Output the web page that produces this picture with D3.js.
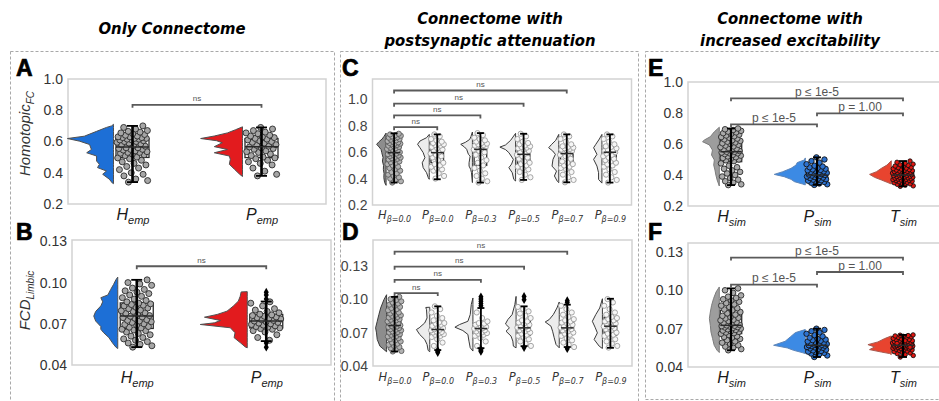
<!DOCTYPE html>
<html>
<head>
<meta charset="utf-8">
<script src="https://cdn.jsdelivr.net/npm/d3@7"></script>
<style>
  html, body { margin: 0; padding: 0; background: #fff; }
  svg { display: block; }
</style>
</head>
<body>
<svg id="fig" width="939" height="401"></svg>
<script>
// ---------- categories and ticks ----------
const labelsEmp  = [["H", "emp"], ["P", "emp"]];
const labelsBeta = [["H", "β=0.0"], ["P", "β=0.0"], ["P", "β=0.3"], ["P", "β=0.5"], ["P", "β=0.7"], ["P", "β=0.9"]];
const labelsSim  = [["H", "sim"], ["P", "sim"], ["T", "sim"]];
const ticksFC  = [0.2, 0.4, 0.6, 0.8, 1.0];
const ticksFCD = [0.04, 0.07, 0.10, 0.13];
const panelTitles = [["Only Connectome"], ["Connectome with", "postsynaptic attenuation"], ["Connectome with", "increased excitability"]];

// ---------- Homotopic FC, empirical ----------
const fcHemp = [0.34,0.35,0.36,0.38,0.39,0.40,0.42,0.43,0.44,0.45,0.46,0.47,0.48,0.49,0.495,
  0.50,0.51,0.515,0.52,0.525,0.53,0.53,0.535,0.54,0.545,0.55,0.55,0.555,0.56,0.56,
  0.57,0.575,0.58,0.585,0.59,0.595,0.60,0.60,0.605,0.61,0.61,0.615,0.615,0.62,0.62,
  0.625,0.625,0.63,0.63,0.635,0.64,0.645,0.65,0.655,0.66,0.665,0.67,0.68,0.69,0.70];
const fcPemp = [0.38,0.39,0.41,0.43,0.45,0.46,0.47,0.48,0.49,0.495,
  0.50,0.51,0.52,0.53,0.535,0.54,0.55,0.555,0.56,0.565,
  0.57,0.575,0.58,0.59,0.595,0.60,0.605,0.61,0.615,0.62,
  0.625,0.63,0.635,0.64,0.65,0.655,0.66,0.67,0.68,0.69];
// box: [lower whisker, q1, median, q3, upper whisker]
const boxFcHemp = [0.34, 0.498, 0.565, 0.619, 0.70];
const boxFcPemp = [0.38, 0.497, 0.567, 0.619, 0.69];
// half-violin density profiles: [value, relative density]
const kdeFcHemp = [[0.71,0],[0.70,0.04],[0.69,0.15],[0.665,0.36],[0.634,0.62],[0.619,0.98],[0.602,0.72],[0.581,0.51],
  [0.549,0.47],[0.528,0.57],[0.507,0.36],[0.475,0.36],[0.454,0.30],[0.433,0.34],[0.411,0.15],[0.39,0.23],[0.359,0.09],[0.333,0.02],[0.33,0]];
const kdeFcPemp = [[0.694,0],[0.675,0.15],[0.655,0.32],[0.635,0.60],[0.619,0.89],[0.605,0.55],[0.592,0.43],[0.567,0.60],
  [0.549,0.32],[0.528,0.60],[0.507,0.28],[0.486,0.26],[0.454,0.28],[0.422,0.17],[0.39,0.06],[0.376,0]];

// ---------- FCD limbic, empirical ----------
const fcdHemp = [0.053,0.054,0.055,0.056,0.057,0.058,0.059,0.060,0.061,0.062,0.063,0.064,0.065,0.0655,0.066,
  0.067,0.0675,0.068,0.069,0.0695,0.070,0.071,0.0715,0.072,0.0725,0.073,0.074,0.0745,0.075,0.0755,
  0.076,0.077,0.0775,0.078,0.079,0.0795,0.080,0.081,0.0815,0.082,0.083,0.0835,0.084,0.0845,0.085,
  0.086,0.087,0.088,0.089,0.090,0.091,0.092,0.093,0.094,0.095,0.096,0.098,0.099,0.100,0.102];
const fcdPemp = [0.053,0.056,0.058,0.060,0.062,0.064,0.065,0.066,0.0665,0.067,
  0.0675,0.068,0.0685,0.069,0.0695,0.070,0.0705,0.071,0.0715,0.072,
  0.0725,0.073,0.0735,0.074,0.0745,0.075,0.0755,0.076,0.0765,0.077,
  0.078,0.079,0.080,0.081,0.083,0.085,0.086,0.088,0.091,0.093];
const boxFcdHemp = [0.053, 0.0666, 0.0756, 0.0852, 0.102];
const boxFcdPemp = [0.0574, 0.067, 0.072, 0.0768, 0.0862];
const kdeFcdHemp = [[0.104,0],[0.102,0.04],[0.0986,0.09],[0.095,0.15],[0.091,0.21],[0.089,0.36],[0.086,0.32],[0.083,0.36],
  [0.079,0.47],[0.0756,0.51],[0.072,0.47],[0.068,0.36],[0.066,0.36],[0.0635,0.30],[0.06,0.19],[0.056,0.11],[0.053,0.04],[0.052,0]];
const kdeFcdPemp = [[0.0934,0],[0.0932,0.13],[0.090,0.15],[0.0865,0.19],[0.0828,0.30],[0.0792,0.43],[0.0768,0.64],[0.0748,0.91],
  [0.0724,0.57],[0.0707,0.70],[0.0695,1.0],[0.0671,0.36],[0.0635,0.26],[0.0599,0.28],[0.0563,0.15],[0.0531,0.04],[0.0525,0]];

// ---------- Homotopic FC, postsynaptic attenuation ----------
const fcHb00 = [0.37,0.38,0.39,0.40,0.41,0.42,0.43,0.44,0.45,0.46,0.47,0.48,0.49,0.50,0.51,
  0.52,0.525,0.53,0.54,0.545,0.55,0.555,0.56,0.565,0.57,0.575,0.58,0.585,0.59,0.595,
  0.60,0.605,0.61,0.615,0.62,0.625,0.63,0.635,0.64,0.645,0.65,0.655,0.66,0.665,0.665,
  0.67,0.675,0.68,0.685,0.69,0.695,0.70,0.705,0.71,0.715,0.72,0.725,0.73,0.735,0.74];
const fcPb00 = [0.40,0.42,0.44,0.46,0.47,0.48,0.49,0.50,0.51,0.52,0.54,0.56,0.57,0.58,0.59,
  0.60,0.61,0.62,0.63,0.64,0.65,0.655,0.66,0.665,0.67,0.68,0.69,0.70,0.72,0.735];
const fcPb03 = [0.37,0.38,0.40,0.42,0.44,0.46,0.48,0.50,0.52,0.54,0.56,0.58,0.60,0.61,0.62,
  0.63,0.635,0.64,0.645,0.65,0.655,0.66,0.665,0.67,0.68,0.69,0.70,0.71,0.73,0.745];
const fcPb05 = [0.39,0.41,0.43,0.45,0.47,0.48,0.49,0.50,0.51,0.52,0.53,0.55,0.56,0.57,0.58,
  0.59,0.60,0.61,0.62,0.63,0.635,0.64,0.645,0.65,0.66,0.67,0.68,0.70,0.72,0.74];
const fcPb07 = [0.372,0.39,0.41,0.43,0.45,0.47,0.48,0.49,0.50,0.51,0.52,0.53,0.55,0.57,0.58,
  0.59,0.60,0.61,0.615,0.62,0.625,0.63,0.635,0.64,0.645,0.66,0.68,0.70,0.72,0.735];
const fcPb09 = [0.37,0.39,0.41,0.43,0.45,0.47,0.49,0.50,0.51,0.52,0.53,0.54,0.55,0.56,0.57,
  0.58,0.59,0.60,0.605,0.61,0.615,0.62,0.63,0.64,0.645,0.66,0.68,0.70,0.72,0.735];
const boxFcHb00 = [0.37, 0.521, 0.597, 0.667, 0.743];
const boxFcPb00 = [0.395, 0.521, 0.597, 0.667, 0.735];
const boxFcPb03 = [0.37, 0.50, 0.622, 0.66, 0.745];
const boxFcPb05 = [0.39, 0.516, 0.584, 0.652, 0.74];
const boxFcPb07 = [0.372, 0.52, 0.59, 0.645, 0.735];
const boxFcPb09 = [0.37, 0.53, 0.60, 0.645, 0.735];
const kdeFcHb00 = [[0.745,0],[0.72,0.13],[0.70,0.25],[0.68,0.44],[0.66,0.59],[0.64,0.44],[0.62,0.31],[0.597,0.27],
  [0.56,0.19],[0.533,0.23],[0.50,0.16],[0.47,0.17],[0.44,0.13],[0.407,0.14],[0.37,0.09],[0.349,0]];
const kdeFcPb00 = [[0.735,0],[0.71,0.17],[0.685,0.58],[0.66,0.73],[0.634,0.58],[0.597,0.38],[0.559,0.27],[0.52,0.44],
  [0.483,0.38],[0.445,0.17],[0.407,0.06],[0.395,0]];
const kdeFcPb03 = [[0.753,0],[0.72,0.09],[0.697,0.17],[0.675,0.44],[0.66,0.73],[0.64,0.50],[0.622,0.36],[0.584,0.25],
  [0.571,0.14],[0.52,0.21],[0.495,0.21],[0.47,0.11],[0.445,0.06],[0.37,0]];
const kdeFcPb05 = [[0.743,0],[0.69,0.31],[0.655,0.63],[0.639,0.98],[0.62,0.63],[0.597,0.42],[0.546,0.14],[0.51,0.25],
  [0.483,0.42],[0.445,0.21],[0.394,0.11],[0.382,0]];
const kdeFcPb07 = [[0.735,0],[0.69,0.19],[0.66,0.44],[0.634,0.63],[0.61,0.38],[0.584,0.21],[0.546,0.36],[0.495,0.42],
  [0.457,0.14],[0.42,0.27],[0.38,0.09],[0.37,0]];
const kdeFcPb09 = [[0.735,0],[0.70,0.16],[0.66,0.38],[0.634,0.52],[0.584,0.31],[0.546,0.52],[0.495,0.31],[0.445,0.21],
  [0.394,0.21],[0.366,0]];

// ---------- FCD limbic, postsynaptic attenuation ----------
const fcdHb00 = [0.053,0.0535,0.055,0.056,0.057,0.058,0.059,0.060,0.061,0.062,0.063,0.064,0.065,0.066,0.0665,
  0.067,0.068,0.0685,0.069,0.070,0.0705,0.071,0.072,0.0725,0.073,0.074,0.0745,0.075,0.0755,0.076,
  0.0765,0.077,0.078,0.0785,0.079,0.080,0.081,0.0815,0.082,0.083,0.0835,0.084,0.085,0.0855,0.086,
  0.087,0.088,0.089,0.090,0.091,0.092,0.093,0.094,0.095,0.096,0.097,0.098,0.099,0.100,0.102];
const fcdPb00 = [0.052,0.053,0.054,0.058,0.061,0.064,0.066,0.067,0.068,0.0685,0.069,0.070,0.0705,0.071,0.072,
  0.0725,0.073,0.074,0.075,0.076,0.077,0.078,0.0785,0.079,0.081,0.083,0.085,0.088,0.091,0.0935];
const fcdPb03 = [0.053,0.054,0.055,0.058,0.062,0.065,0.067,0.068,0.069,0.0695,0.070,0.071,0.072,0.073,0.0735,
  0.074,0.0745,0.075,0.076,0.077,0.078,0.0785,0.080,0.083,0.088,0.094,0.096,0.098,0.100,0.102];
const fcdPb05 = [0.0565,0.058,0.060,0.062,0.064,0.066,0.067,0.068,0.069,0.070,0.071,0.072,0.073,0.074,0.0745,
  0.075,0.076,0.077,0.078,0.079,0.080,0.081,0.083,0.085,0.087,0.089,0.091,0.093,0.0995,0.1024];
const fcdPb07 = [0.0555,0.057,0.059,0.061,0.063,0.065,0.067,0.068,0.069,0.070,0.071,0.072,0.073,0.074,0.0745,
  0.075,0.076,0.077,0.078,0.079,0.080,0.081,0.082,0.084,0.086,0.088,0.091,0.094,0.097,0.0986];
const fcdPb09 = [0.0565,0.058,0.060,0.062,0.064,0.066,0.067,0.068,0.069,0.070,0.072,0.073,0.074,0.075,0.0755,
  0.076,0.077,0.078,0.079,0.080,0.081,0.082,0.083,0.084,0.086,0.088,0.091,0.094,0.097,0.100];
const boxFcdHb00 = [0.053, 0.0667, 0.0763, 0.086, 0.102];
const boxFcdPb00 = [0.0543, 0.0683, 0.0727, 0.0786, 0.0935];
const boxFcdPb03 = [0.056, 0.0689, 0.0736, 0.0786, 0.092];
const boxFcdPb05 = [0.0578, 0.0677, 0.0742, 0.0801, 0.0935];
const boxFcdPb07 = [0.057, 0.0683, 0.0742, 0.0801, 0.095];
const boxFcdPb09 = [0.0563, 0.0677, 0.0757, 0.0837, 0.1003];
const kdeFcdHb00 = [[0.1039,0],[0.0994,0.15],[0.092,0.33],[0.086,0.43],[0.0801,0.52],[0.0742,0.61],[0.0697,0.56],
  [0.0638,0.52],[0.0578,0.37],[0.0548,0.15],[0.0528,0]];
const kdeFcdPb00 = [[0.0927,0],[0.0925,0.22],[0.0905,0.18],[0.0831,0.15],[0.0786,0.28],[0.0742,0.59],[0.0727,0.74],
  [0.0683,0.56],[0.0638,0.28],[0.0593,0.15],[0.054,0.09],[0.0528,0]];
const kdeFcdPb03 = [[0.101,0],[0.0952,0.09],[0.0861,0.15],[0.0801,0.28],[0.0772,0.74],[0.0748,1.0],[0.0718,0.56],
  [0.0683,0.28],[0.0623,0.22],[0.0564,0.15],[0.0534,0]];
const kdeFcdPb05 = [[0.1024,0],[0.095,0.07],[0.0861,0.22],[0.0816,0.46],[0.0777,0.59],[0.0742,0.37],[0.0712,0.56],
  [0.0668,0.28],[0.0623,0.18],[0.0578,0.15],[0.0563,0]];
const kdeFcdPb07 = [[0.0974,0],[0.092,0.13],[0.0861,0.33],[0.0816,0.56],[0.0795,0.78],[0.0757,0.46],[0.0712,0.37],
  [0.0653,0.28],[0.0593,0.18],[0.0563,0]];
const kdeFcdPb09 = [[0.1003,0],[0.092,0.15],[0.0861,0.37],[0.0801,0.56],[0.0748,0.41],[0.0697,0.28],[0.0638,0.46],
  [0.0578,0.18],[0.0557,0]];

// ---------- Homotopic FC, increased excitability ----------
const fcHsim = [0.335,0.34,0.35,0.36,0.37,0.38,0.39,0.40,0.41,0.42,0.43,0.44,0.45,0.46,0.475,
  0.49,0.495,0.50,0.505,0.51,0.515,0.52,0.525,0.53,0.535,0.54,0.54,0.545,0.55,0.55,
  0.555,0.56,0.565,0.57,0.575,0.58,0.585,0.59,0.595,0.60,0.605,0.61,0.615,0.62,0.625,
  0.63,0.635,0.64,0.645,0.65,0.655,0.66,0.665,0.67,0.675,0.68,0.685,0.69,0.695,0.70];
const fcPsim = [0.336,0.34,0.345,0.35,0.355,0.36,0.363,0.366,0.37,0.373,0.376,0.38,0.383,0.386,0.39,
  0.393,0.396,0.40,0.40,0.403,0.406,0.41,0.413,0.416,0.42,0.423,0.426,0.43,0.433,0.436,
  0.44,0.445,0.45,0.455,0.46,0.47,0.48,0.49,0.50,0.514];
const fcTsim = [0.327,0.33,0.335,0.34,0.343,0.346,0.35,0.353,0.356,0.36,0.362,0.364,0.366,0.368,0.37,
  0.372,0.374,0.376,0.378,0.38,0.382,0.384,0.386,0.388,0.39,0.392,0.394,0.396,0.398,0.40,
  0.402,0.404,0.406,0.408,0.41,0.412,0.414,0.416,0.418,0.42,0.422,0.424,0.426,0.428,0.43,
  0.432,0.435,0.438,0.441,0.444,0.447,0.45,0.454,0.458,0.462,0.466,0.47,0.476,0.482,0.49];
const boxFcHsim = [0.335, 0.486, 0.55, 0.626, 0.70];
const boxFcPsim = [0.336, 0.368, 0.40, 0.432, 0.514];
const boxFcTsim = [0.327, 0.368, 0.40, 0.432, 0.49];
const kdeFcHsim = [[0.708,0],[0.679,0.16],[0.647,0.29],[0.626,0.48],[0.615,0.54],[0.594,0.32],[0.561,0.22],[0.529,0.25],
  [0.497,0.16],[0.464,0.18],[0.432,0.14],[0.40,0.11],[0.368,0.07],[0.329,0]];
const kdeFcPsim = [[0.51,0],[0.497,0.03],[0.48,0.26],[0.464,0.30],[0.443,0.46],[0.421,0.73],[0.404,1.0],[0.389,0.68],
  [0.372,0.46],[0.357,0.35],[0.342,0.09],[0.336,0]];
const kdeFcTsim = [[0.492,0],[0.464,0.14],[0.443,0.32],[0.421,0.48],[0.404,0.70],[0.385,0.54],[0.368,0.32],[0.351,0.11],[0.342,0]];

// ---------- FCD limbic, increased excitability ----------
const fcdHsim = [0.0531,0.054,0.055,0.056,0.057,0.058,0.059,0.060,0.061,0.062,0.063,0.0635,0.064,0.065,0.066,
  0.0665,0.067,0.0675,0.068,0.0685,0.069,0.0695,0.070,0.0705,0.071,0.0712,0.0717,0.072,0.0723,0.0726,
  0.073,0.0737,0.0745,0.075,0.076,0.0765,0.077,0.078,0.0785,0.079,0.080,0.081,0.082,0.083,0.0844,
  0.085,0.086,0.087,0.088,0.089,0.090,0.091,0.092,0.093,0.094,0.095,0.096,0.098,0.100,0.1015];
const fcdPsim = [0.0478,0.049,0.050,0.0505,0.051,0.0515,0.052,0.0525,0.053,0.0535,0.054,0.0545,0.055,0.0553,0.0556,
  0.056,0.0563,0.0566,0.057,0.057,0.0573,0.0576,0.058,0.0583,0.0586,0.059,0.0595,0.060,0.0605,0.061,
  0.0615,0.062,0.063,0.064,0.065,0.066,0.067,0.068,0.069,0.070];
const fcdTsim = [0.0478,0.049,0.0498,0.0505,0.051,0.0515,0.052,0.0525,0.053,0.0533,0.0536,0.0539,0.0542,0.0544,0.0547,
  0.055,0.0552,0.0554,0.0556,0.0558,0.056,0.0562,0.0564,0.0566,0.0568,0.057,0.057,0.0572,0.0574,0.0576,
  0.0578,0.058,0.0582,0.0584,0.0586,0.0588,0.059,0.0592,0.0594,0.0596,0.0598,0.060,0.0603,0.0606,0.061,
  0.0613,0.0616,0.062,0.0624,0.0628,0.0632,0.0636,0.064,0.0643,0.0646,0.0649,0.0651,0.0605,0.0585,0.0555];
const boxFcdHsim = [0.0531, 0.0661, 0.0726, 0.0844, 0.1015];
const boxFcdPsim = [0.0478, 0.0531, 0.057, 0.0609, 0.070];
const boxFcdTsim = [0.0478, 0.0544, 0.057, 0.0596, 0.0651];
const kdeFcdHsim = [[0.1026,0],[0.0987,0.10],[0.0935,0.18],[0.0883,0.24],[0.083,0.28],[0.0779,0.31],[0.0726,0.28],
  [0.0674,0.26],[0.0622,0.21],[0.057,0.16],[0.0531,0.07],[0.0513,0]];
const kdeFcdPsim = [[0.0693,0],[0.0669,0.31],[0.0635,0.47],[0.0601,0.63],[0.057,0.99],[0.0549,0.56],[0.0531,0.37],[0.0513,0.10],[0.0505,0]];
const kdeFcdTsim = [[0.0643,0],[0.0622,0.21],[0.0596,0.42],[0.0575,0.73],[0.0557,0.52],[0.0536,0.68],[0.0517,0.31],[0.0505,0.05],[0.0497,0]];

// ---------- significance brackets: [from, to, level, label] ----------
const sigA = [[0, 1, 0.835, "ns"]];
const sigB = [[0, 1, 0.1119, "ns"]];
const sigC = [[0, 1, 0.790, "ns"], [0, 2, 0.879, "ns"], [0, 3, 0.968, "ns"], [0, 4, 1.068, "ns"]];
const sigD = [[0, 1, 0.1054, "ns"], [0, 2, 0.1173, "ns"], [0, 3, 0.1291, "ns"], [0, 4, 0.1425, "ns"]];
const sigE = [[0, 1, 0.727, "p ≤ 1e-5"], [1, 2, 0.798, "p = 1.00"], [0, 2, 0.895, "p ≤ 1e-5"]];
const sigF = [[0, 1, 0.1045, "p ≤ 1e-5"], [1, 2, 0.1143, "p = 1.00"], [0, 2, 0.1256, "p ≤ 1e-5"]];

// ---------- styles ----------
const SANS = "'Liberation Sans', Arial, sans-serif";
const VERD = "'DejaVu Sans', Verdana, sans-serif";
const stEmpH  = { vFill: "#1d6fd6", vStroke: "#505050", pFill: "#a6a6a6", pStroke: "#2a2a2a", r: 3 };
const stEmpP  = { vFill: "#e21b1e", vStroke: "#505050", pFill: "#a6a6a6", pStroke: "#2a2a2a", r: 3 };
const stBetaH = { vFill: "#8d8d8d", vStroke: "#3a3a3a", pFill: "#b2b2b2", pStroke: "#5c5c5c", r: 2.6 };
const stBetaP = { vFill: "#ececec", vStroke: "#3a3a3a", pFill: "#f6f6f6", pStroke: "#9c9c9c", r: 2.6 };
const stSimH  = { vFill: "#9d9d9d", vStroke: "#7c7c7c", pFill: "#aaaaaa", pStroke: "#2c2c2c", r: 2.8 };
const stSimP  = { vFill: "#3c8ae4", vStroke: "#5f86b8", pFill: "#2d72cf", pStroke: "#111111", r: 2.7 };
const stSimT  = { vFill: "#e8442f", vStroke: "#a85a50", pFill: "#e3150f", pStroke: "#111111", r: 2.2 };

const grp = (vals, box, kde, st) => ({ vals, box, kde, st });

const panels = [
  { letter: "A", lx: 16, ly: 76, x0: 68, x1: 326, y0: 79, y1: 204, dom: [0.2, 1.0], ticks: ticksFC, fmt: d3.format(".1f"),
    labels: labelsEmp, labelY: 219.5, big: true, ytitle: ["Homotopic", "FC"], ytitleY: 133.5,
    maxW: 47, vOff: 19, boxHW: 16.5, jitW: 15.5, capHW: 5.5, whisk: 2.6, sig: sigA, sigFont: 8,
    groups: [grp(fcHemp, boxFcHemp, kdeFcHemp, stEmpH), grp(fcPemp, boxFcPemp, kdeFcPemp, stEmpP)] },
  { letter: "B", lx: 16, ly: 240, x0: 72, x1: 331, y0: 240, y1: 365, dom: [0.04, 0.131], ticks: ticksFCD, fmt: d3.format(".2f"),
    labels: labelsEmp, labelY: 383, big: true, ytitle: ["FCD", "Limbic"], ytitleY: 300.5,
    maxW: 47, vOff: 19, boxHW: 16.5, jitW: 15.5, capHW: 5.5, whisk: 2.6, sig: sigB, sigFont: 8,
    groups: [grp(fcdHemp, boxFcdHemp, kdeFcdHemp, stEmpH), grp(fcdPemp, boxFcdPemp, kdeFcdPemp, stEmpP)] },
  { letter: "C", lx: 342, ly: 76, x0: 372.5, x1: 631.5, y0: 79, y1: 205, dom: [0.2, 1.155], ticks: ticksFC, fmt: d3.format(".1f"),
    labels: labelsBeta, labelY: 218.5, big: false,
    maxW: 16, vOff: 8, boxHW: 6.3, jitW: 7, capHW: 3.5, whisk: 1.8, sig: sigC, sigFont: 8,
    groups: [grp(fcHb00, boxFcHb00, kdeFcHb00, stBetaH), grp(fcPb00, boxFcPb00, kdeFcPb00, stBetaP),
             grp(fcPb03, boxFcPb03, kdeFcPb03, stBetaP), grp(fcPb05, boxFcPb05, kdeFcPb05, stBetaP),
             grp(fcPb07, boxFcPb07, kdeFcPb07, stBetaP), grp(fcPb09, boxFcPb09, kdeFcPb09, stBetaP)] },
  { letter: "D", lx: 342, ly: 240, x0: 373, x1: 632, y0: 240, y1: 366, dom: [0.04, 0.153], ticks: ticksFCD, fmt: d3.format(".2f"),
    labels: labelsBeta, labelY: 380.5, big: false,
    maxW: 18, vOff: 8, boxHW: 6.3, jitW: 7, capHW: 3.5, whisk: 1.8, sig: sigD, sigFont: 8,
    groups: [grp(fcdHb00, boxFcdHb00, kdeFcdHb00, stBetaH), grp(fcdPb00, boxFcdPb00, kdeFcdPb00, stBetaP),
             grp(fcdPb03, boxFcdPb03, kdeFcdPb03, stBetaP), grp(fcdPb05, boxFcdPb05, kdeFcdPb05, stBetaP),
             grp(fcdPb07, boxFcdPb07, kdeFcdPb07, stBetaP), grp(fcdPb09, boxFcdPb09, kdeFcdPb09, stBetaP)] },
  { letter: "E", lx: 648, ly: 76, x0: 688, x1: 946, y0: 82, y1: 206, dom: [0.2, 1.0], ticks: ticksFC, fmt: d3.format(".1f"),
    labels: labelsSim, labelY: 221.5, big: true,
    maxW: 31, vOff: 11.7, boxHW: 10.7, jitW: 10.5, capHW: 4, whisk: 2.2, sig: sigE, sigFont: 12,
    groups: [grp(fcHsim, boxFcHsim, kdeFcHsim, stSimH), grp(fcPsim, boxFcPsim, kdeFcPsim, stSimP),
             grp(fcTsim, boxFcTsim, kdeFcTsim, stSimT)] },
  { letter: "F", lx: 648, ly: 240, x0: 688, x1: 946, y0: 243, y1: 367, dom: [0.04, 0.137], ticks: ticksFCD, fmt: d3.format(".2f"),
    labels: labelsSim, labelY: 382.5, big: true,
    maxW: 32, vOff: 11.7, boxHW: 10.7, jitW: 10.5, capHW: 4, whisk: 2.2, sig: sigF, sigFont: 12,
    groups: [grp(fcdHsim, boxFcdHsim, kdeFcdHsim, stSimH), grp(fcdPsim, boxFcdPsim, kdeFcdPsim, stSimP),
             grp(fcdTsim, boxFcdTsim, kdeFcdTsim, stSimT)] }
];

const svg = d3.select("#fig");

// dashed outlines around the three column groups
const outlines = [[10.5, 51.5, 324, 360], [340.5, 51.5, 298, 360], [645.5, 51.5, 300, 348]];
svg.selectAll("rect.outline").data(outlines).join("rect")
  .attr("class", "outline")
  .attr("x", d => d[0]).attr("y", d => d[1]).attr("width", d => d[2]).attr("height", d => d[3])
  .attr("fill", "none").attr("stroke", "#a9a9a9").attr("stroke-width", 1).attr("stroke-dasharray", "3,2");

// column titles
const titleX = [172, 490, 790];
const titleY = [[34], [24, 46], [24, 46]];
panelTitles.forEach((lines, c) => {
  lines.forEach((line, k) => {
    svg.append("text").attr("x", titleX[c]).attr("y", titleY[c][k])
      .attr("text-anchor", "middle")
      .attr("font-family", "'DejaVu Sans Condensed', 'DejaVu Sans', sans-serif")
      .attr("font-stretch", "condensed")
      .attr("font-weight", "bold").attr("font-style", "italic").attr("font-size", 16.5)
      .attr("fill", "#000").text(line);
  });
});

// deterministic spread of strip points
const spread = i => ((i * 0.6180339887 + 0.37) % 1) * 2 - 1;

function drawPanel(p) {
  const g = svg.append("g");
  const x = d3.scalePoint().domain(d3.range(p.labels.length)).range([p.x0, p.x1]).padding(0.5);
  const y = d3.scaleLinear().domain(p.dom).range([p.y1, p.y0]);
  const w = d3.scaleLinear().domain([0, 1]).range([0, p.maxW]);

  // panel letter
  g.append("text").attr("x", p.lx).attr("y", p.ly)
    .attr("font-family", SANS).attr("font-weight", "bold").attr("font-size", 23)
    .attr("stroke", "#000").attr("stroke-width", 0.7).attr("fill", "#000").text(p.letter);

  // frame
  g.append("rect").attr("x", p.x0).attr("y", p.y0)
    .attr("width", p.x1 - p.x0).attr("height", p.y1 - p.y0)
    .attr("fill", "none").attr("stroke", "#d2d2d2").attr("stroke-width", 1.5);

  // y axis labels
  const ya = g.append("g").attr("transform", `translate(${p.x0},0)`)
    .call(d3.axisLeft(y).tickValues(p.ticks).tickFormat(p.fmt).tickSize(0).tickPadding(5));
  ya.select(".domain").remove();
  ya.selectAll("text").attr("font-family", SANS).attr("font-size", 14)
    .attr("fill", p.big ? "#333" : "#444");

  // x axis labels with subscripts
  const xa = g.append("g").attr("transform", `translate(0,${p.labelY})`)
    .call(d3.axisBottom(x).tickSize(0).tickFormat(""));
  xa.select(".domain").remove();
  xa.selectAll(".tick text").each(function (i) {
    const t = d3.select(this).attr("y", 0).attr("dy", null).text(null)
      .attr("font-family", p.big ? SANS : VERD).attr("font-style", "italic")
      .attr("fill", p.big ? "#1a1a1a" : "#333");
    const [base, sub] = p.labels[i];
    t.append("tspan").attr("font-size", p.big ? 16 : 11.5).text(base);
    t.append("tspan").attr("font-size", p.big ? 11 : 8).attr("dy", p.big ? 4 : 3).text(sub);
  });

  // y title
  if (p.ytitle) {
    const t = g.append("text").attr("transform", `translate(30,${p.ytitleY}) rotate(-90)`)
      .attr("text-anchor", "middle").attr("font-family", SANS).attr("font-style", "italic")
      .attr("fill", "#333");
    t.append("tspan").attr("font-size", 15).text(p.ytitle[0]);
    t.append("tspan").attr("font-size", 10).attr("dy", 3.5).text(p.ytitle[1]);
  }

  p.groups.forEach((gr, i) => {
    const cx = x(i);
    const flat = cx - p.vOff;
    const [lo, q1, med, q3, hi] = gr.box;

    // half violin ("cloud") to the left
    const area = d3.area().curve(d3.curveLinear)
      .y(d => y(d[0])).x0(flat).x1(d => flat - w(d[1]));
    g.append("path").datum(gr.kde).attr("d", area)
      .attr("fill", gr.st.vFill).attr("stroke", gr.st.vStroke).attr("stroke-width", 1)
      .attr("stroke-linejoin", "round");

    // box body
    g.append("rect").attr("x", cx - p.boxHW).attr("y", y(q3))
      .attr("width", 2 * p.boxHW).attr("height", y(q1) - y(q3))
      .attr("fill", "none").attr("stroke", "#2a2a2a").attr("stroke-width", 1.3);

    // strip points (inliers) and fliers
    const inl = gr.vals.map((v, k) => ({ v, k })).filter(d => d.v >= lo && d.v <= hi);
    const out = gr.vals.map((v, k) => ({ v, k })).filter(d => d.v < lo || d.v > hi);
    g.selectAll(null).data(inl).join("circle")
      .attr("cx", d => cx + spread(d.k) * p.jitW).attr("cy", d => y(d.v)).attr("r", gr.st.r)
      .attr("fill", gr.st.pFill).attr("stroke", gr.st.pStroke).attr("stroke-width", 0.9);

    // whisker, caps, median
    g.append("line").attr("x1", cx).attr("x2", cx).attr("y1", y(hi)).attr("y2", y(lo))
      .attr("stroke", "#000").attr("stroke-width", p.whisk);
    [lo, hi].forEach(v => g.append("line").attr("x1", cx - p.capHW).attr("x2", cx + p.capHW)
      .attr("y1", y(v)).attr("y2", y(v)).attr("stroke", "#000").attr("stroke-width", 1.8));
    g.append("line").attr("x1", cx - p.boxHW).attr("x2", cx + p.boxHW)
      .attr("y1", y(med)).attr("y2", y(med)).attr("stroke", "#2a2a2a").attr("stroke-width", 1.5);

    g.selectAll(null).data(out).join("path")
      .attr("transform", d => `translate(${cx},${y(d.v)})`)
      .attr("d", d3.symbol(d3.symbolDiamond, 22))
      .attr("fill", "#000");
  });

  // significance brackets
  p.sig.forEach(([a, b, lvl, lab]) => {
    const yy = y(lvl);
    g.append("path").attr("d", `M${x(a)},${yy + 3}V${yy}H${x(b)}V${yy + 3}`)
      .attr("fill", "none").attr("stroke", "#5a5a5a").attr("stroke-width", 1.8);
    g.append("text").attr("x", (x(a) + x(b)) / 2).attr("y", yy - (p.sigFont > 10 ? 2.5 : 3.5))
      .attr("text-anchor", "middle").attr("font-family", SANS).attr("font-size", p.sigFont)
      .attr("fill", "#555").text(lab);
  });
}

panels.forEach(drawPanel);
</script>
</body>
</html>
